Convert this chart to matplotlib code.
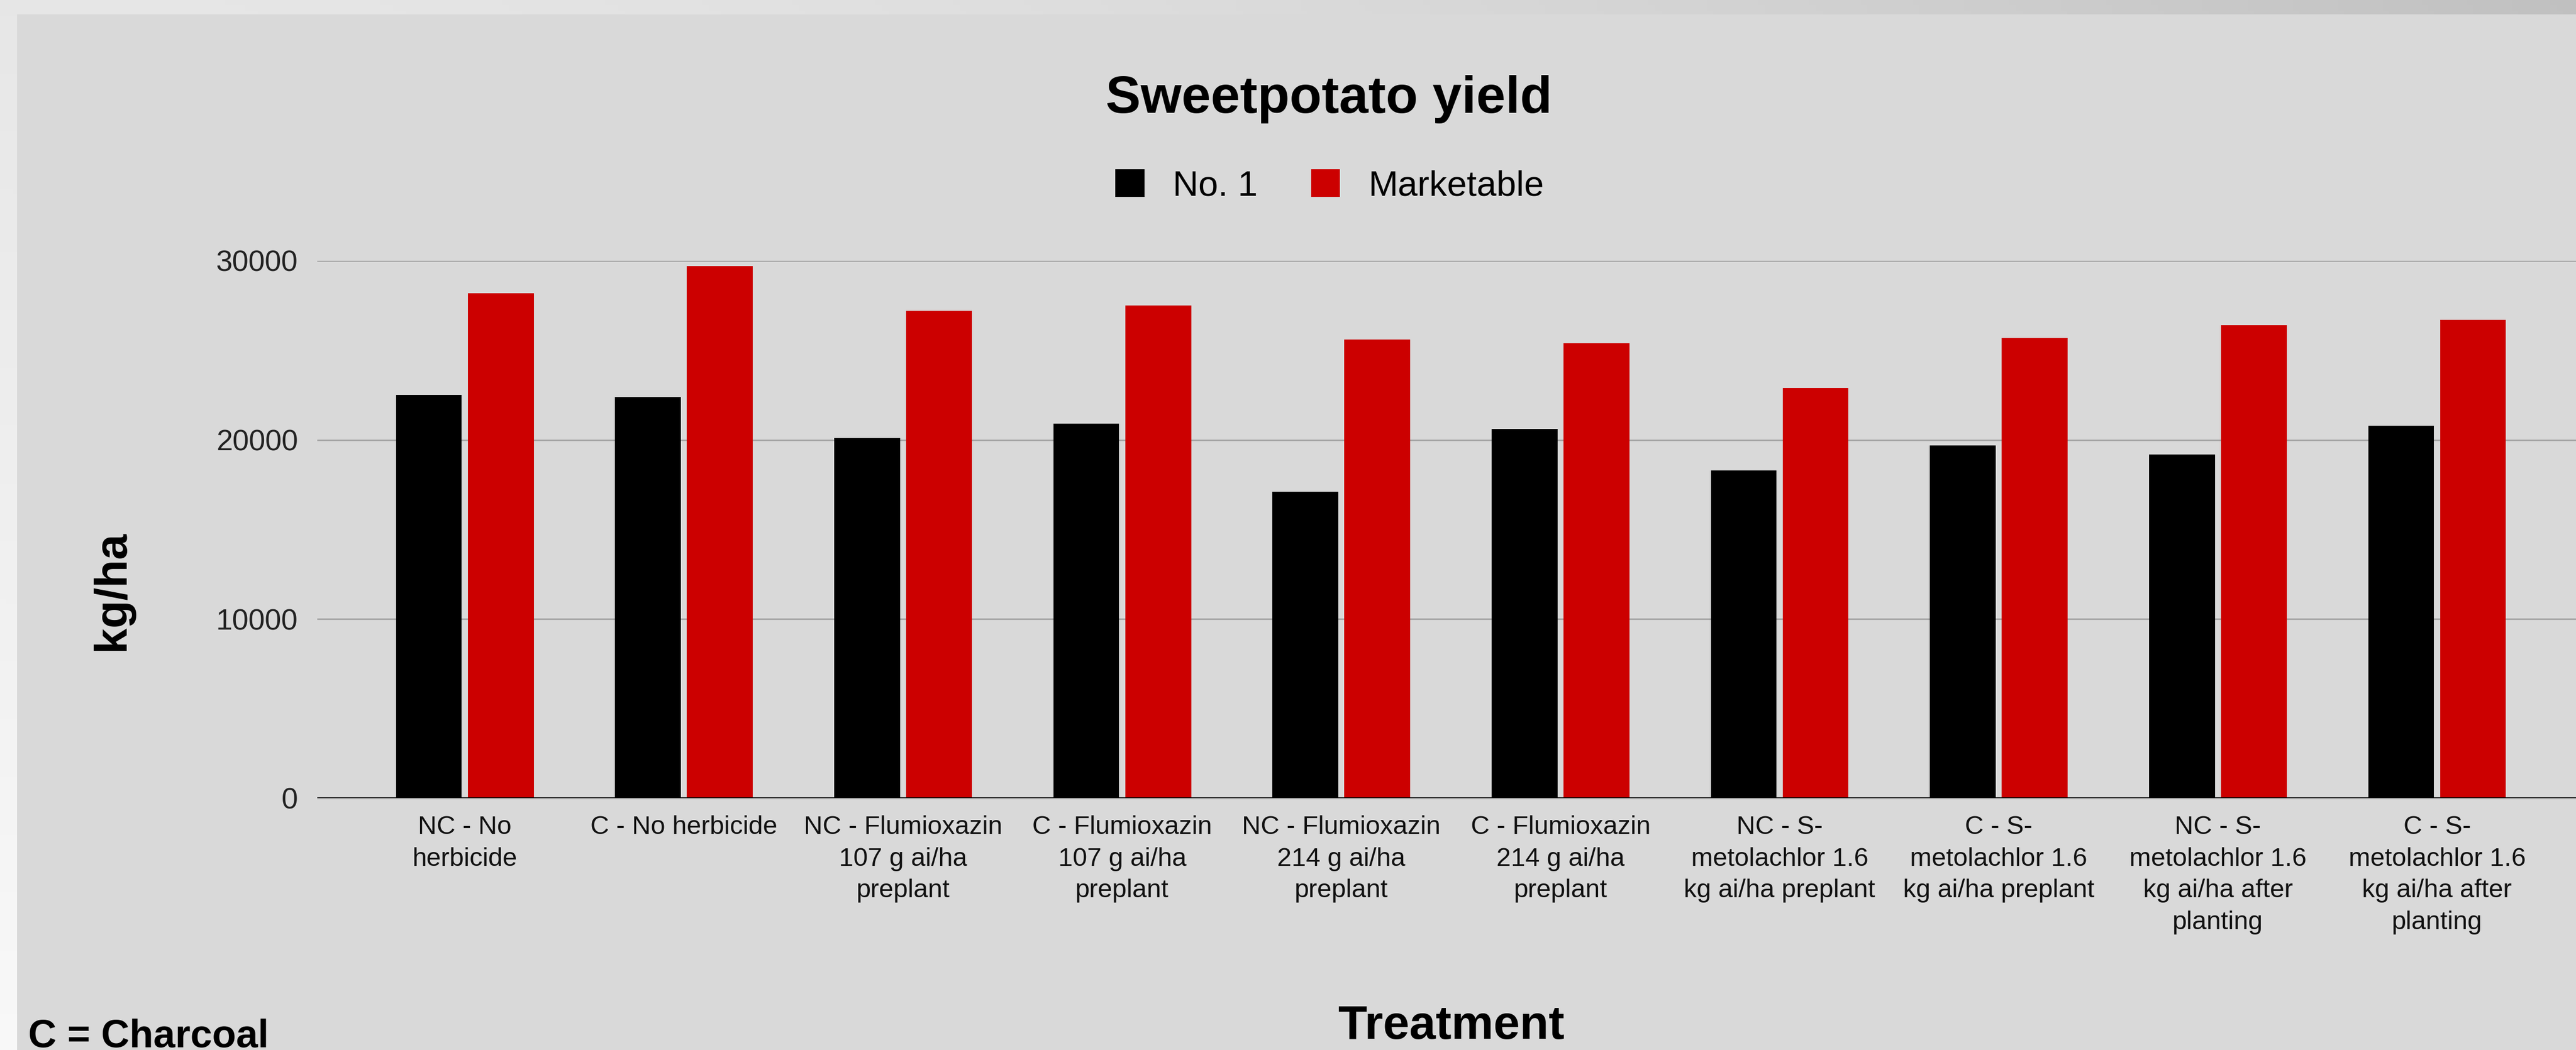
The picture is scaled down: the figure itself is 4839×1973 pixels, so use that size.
import numpy as np
import matplotlib
matplotlib.use("Agg")
import matplotlib.pyplot as plt
from matplotlib.patches import Rectangle, Patch

plt.rcParams['font.family'] = ['Liberation Sans', 'DejaVu Sans']

# ---- data ----
categories = [
    "NC - No\nherbicide",
    "C - No herbicide",
    "NC - Flumioxazin\n107 g ai/ha\npreplant",
    "C - Flumioxazin\n107 g ai/ha\npreplant",
    "NC - Flumioxazin\n214 g ai/ha\npreplant",
    "C - Flumioxazin\n214 g ai/ha\npreplant",
    "NC - S-\nmetolachlor 1.6\nkg ai/ha preplant",
    "C - S-\nmetolachlor 1.6\nkg ai/ha preplant",
    "NC - S-\nmetolachlor 1.6\nkg ai/ha after\nplanting",
    "C - S-\nmetolachlor 1.6\nkg ai/ha after\nplanting",
]
no1 = [22500, 22400, 20100, 20900, 17100, 20600, 18300, 19700, 19200, 20800]
marketable = [28200, 29700, 27200, 27500, 25600, 25400, 22900, 25700, 26400, 26700]
series_names = ["No. 1", "Marketable"]
yticks = [0, 10000, 20000, 30000]

W, H = 4839, 1973
fig = plt.figure(figsize=(W / 100, H / 100), dpi=100)

# slide background gradient
bg = fig.add_axes([0, 0, 1, 1], zorder=-10)
yy, xx = np.mgrid[0:1:200j, 0:1:400j]
v = 0.905 + 0.07 * yy - 0.15 * xx ** 1.6
bg.imshow(np.dstack([v, v, v]).clip(0, 1), aspect='auto', extent=[0, 1, 0, 1], origin='upper')
bg.set_axis_off()

# chart panel
fig.patches.append(Rectangle((32 / W, 0), 1 - 32 / W, 1 - 27 / H, transform=fig.transFigure,
                             facecolor='#d9d9d9', edgecolor='none', zorder=-5))

# main axes
left = 596 / W
bottom = (H - 1500) / H
top = (H - 490) / H
ax = fig.add_axes([left, bottom, 1 - left, top - bottom])
ax.set_facecolor('#d9d9d9')
x = np.arange(len(categories))
bw = 0.301
off = 0.164
ax.bar(x - off, no1, width=bw, color='#000000', zorder=2, label=series_names[0])
ax.bar(x + off, marketable, width=bw, color='#cc0000', zorder=2, label=series_names[1])
ax.axhline(0, color='#111111', linewidth=2.6, zorder=3)
ax.set_ylim(0, 30000)
ax.set_xlim(-0.673, 9.634)
ax.set_yticks(yticks)
ax.set_yticklabels([str(t) for t in yticks])
ax.yaxis.grid(True, color='#a3a3a3', linewidth=2.0)
ax.set_axisbelow(True)
for s in ax.spines.values():
    s.set_visible(False)
ax.set_xticks(x)
ax.set_xticklabels(categories, fontsize=35, linespacing=1.42, color='#111111')
ax.tick_params(axis='x', length=0, pad=23)
ax.tick_params(axis='y', length=0, pad=26, labelsize=40, labelcolor='#222222')

# title and legend
fig.text(2496 / W, 1 - 187 / H, "Sweetpotato yield", fontsize=71, fontweight='bold',
         ha='center', va='center', color='#000000')
handles = [Patch(facecolor='#000000', edgecolor='none'), Patch(facecolor='#cc0000', edgecolor='none')]
fig.legend(handles, series_names, loc='center', bbox_to_anchor=(2498 / W, 1 - 350 / H), ncol=2,
           frameon=False, fontsize=48, handlelength=0.82, handleheight=0.82,
           handletextpad=0.8, columnspacing=1.5)

# axis titles
fig.text(211 / W, 1 - 1110 / H, "kg/ha", rotation=90, fontsize=62, fontweight='bold',
         ha='center', va='center')
fig.text(2726 / W, 2 / H, "Treatment", fontsize=64, fontweight='bold', ha='center', va='bottom')
fig.text(53 / W, 6 / H, "C = Charcoal", fontsize=53, fontweight='bold', ha='left', va='baseline')

fig.savefig("out.png", dpi=100)
